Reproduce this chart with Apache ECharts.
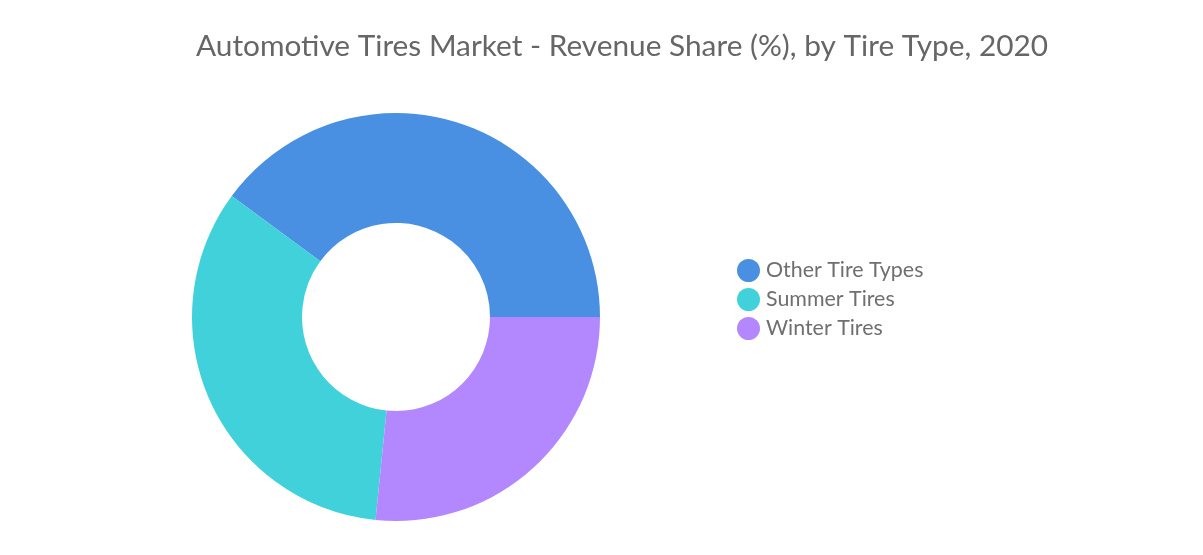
<!DOCTYPE html>
<html><head><meta charset="utf-8">
<script src="https://cdn.jsdelivr.net/npm/echarts@6/dist/echarts.min.js"></script>
<style>html,body{margin:0;padding:0;background:#fff;}#c{width:1203px;height:555px;}</style>
</head><body><div id="c"></div>
<script>
const categories = ["Other Tire Types", "Summer Tires", "Winter Tires"];
const values = [39.9, 33.5, 26.6];
const colors = ["#4a90e2", "#41d1db", "#b388fe"];
const chart = echarts.init(document.getElementById('c'));
chart.setOption({
  animation: false,
  title: {
    text: "Automotive Tires Market - Revenue Share (%), by Tire Type, 2020",
    left: 191, top: 26,
    textStyle: {fontFamily: 'Lato', fontSize: 29.8, fontWeight: 'normal', color: '#666666'}
  },
  legend: {
    orient: 'vertical', left: 732, top: 254,
    icon: 'circle', itemWidth: 23, itemHeight: 23, itemGap: 6,
    textStyle: {fontFamily: 'Lato', fontSize: 21.4, color: '#6f6f6f', padding: [0,0,0,1]},
    data: categories
  },
  series: [{
    type: 'pie',
    center: [396, 317],
    radius: [94, 204],
    startAngle: 0,
    clockwise: false,
    label: {show: false},
    labelLine: {show: false},
    itemStyle: {borderWidth: 0},
    data: categories.map((n, i) => ({name: n, value: values[i], itemStyle: {color: colors[i]}}))
  }]
});
</script></body></html>
